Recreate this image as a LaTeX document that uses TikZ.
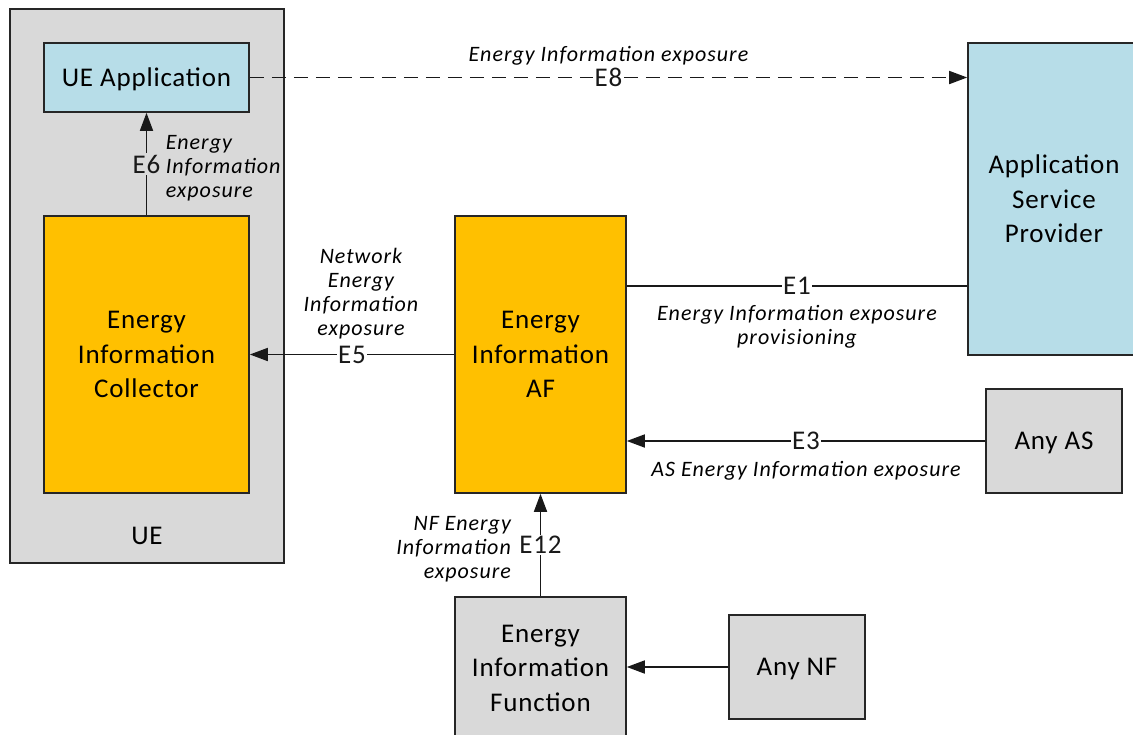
\documentclass[tikz,border=0pt]{standalone}
\usepackage{fontspec}
\setmainfont{Carlito}
\usetikzlibrary{arrows.meta,positioning}

\definecolor{uegrey}{HTML}{D9D9D9}
\definecolor{appblue}{HTML}{B7DDE8}
\definecolor{afgold}{HTML}{FFC000}

\newcommand{\boxfont}{\fontsize{27}{34.5}\selectfont\addfontfeatures{LetterSpace=3}}
\newcommand{\notefont}{\fontsize{22}{24}\selectfont\itshape\addfontfeatures{LetterSpace=4.5}}

\tikzset{
  box/.style={draw=black!85, line width=1.6pt, align=center, inner sep=0pt, font=\boxfont},
  bluebox/.style={box, fill=appblue},
  goldbox/.style={box, fill=afgold},
  greybox/.style={box, fill=uegrey},
  oneline/.style={text depth=0pt},
  ref/.style={fill=white, inner sep=1.5pt, font=\boxfont},
  note/.style={inner sep=0pt, align=center, font=\notefont},
  link/.style={line width=1.7pt, black!90},
  flow/.style={link, -{Triangle[length=18pt,width=13pt]}},
}

\begin{document}
\begin{tikzpicture}[x=1pt,y=-1pt]
\useasboundingbox (0,0) rectangle (1133,734);
% UE side
\node[greybox, minimum width=274pt, minimum height=554pt] (ue) at (147,286) {};
\node[font=\boxfont] (uelbl) at (147,536) {UE};
\node[bluebox, oneline, minimum width=205pt, minimum height=69pt] (ueapp) at (146.5,77.5) {UE Application};
\node[goldbox, minimum width=205pt, minimum height=277pt] (eic) at (146.5,354.5) {Energy\\Information\\Collector};
% network side
\node[goldbox, minimum width=171pt, minimum height=277pt] (eiaf) at (540.5,354.5) {Energy\\Information\\AF};
\node[greybox, minimum width=171pt, minimum height=142pt] (eif) at (540.5,668) {Energy\\Information\\Function};
\node[greybox, oneline, minimum width=136pt, minimum height=104pt] (anynf) at (797,667) {Any NF};
\node[bluebox, minimum width=172pt, minimum height=312pt] (asp) at (1054,199) {Application\\Service\\Provider};
\node[greybox, oneline, minimum width=136pt, minimum height=104pt] (anyas) at (1054,441) {Any AS};

% E8
\draw[flow, dash pattern=on 14pt off 8pt] (ueapp.east) -- node[ref] (e8) {E8} (ueapp.east -| asp.west);
\node[note, above=0pt of e8] (e8txt) {Energy Information exposure};
% E6
\draw[flow] (eic.north) -- node[ref, fill=uegrey] (e6) {E6} (ueapp.south);
\node[note, align=left, right=3pt of e6, yshift=-4pt] (e6txt) {Energy\\Information\\exposure};
% E5
\draw[flow] (eiaf.west) -- node[ref] (e5) {E5} (eic.east);
\node[note, above=4pt of e5, xshift=9pt] (e5txt) {Network\\Energy\\Information\\exposure};
% E1
\coordinate (e1a) at ([yshift=68.5pt]eiaf.east);
\draw[link] (e1a) -- node[ref] (e1) {E1} (e1a -| asp.west);
\node[note, below=8pt of e1] (e1txt) {Energy Information exposure\\provisioning};
% E3
\draw[flow] (anyas.west) -- node[ref] (e3) {E3} (anyas.west -| eiaf.east);
\node[note, below=9pt of e3] (e3txt) {AS Energy Information exposure};
% E12
\draw[flow] (eif.north) -- node[ref] (e12) {E12} (eiaf.south);
\node[note, align=right, left=6pt of e12, yshift=-4pt] (e12txt) {NF Energy\\Information\\exposure};
% NF input
\draw[flow] (anynf.west) -- (anynf.west -| eif.east);
\end{tikzpicture}
\end{document}
